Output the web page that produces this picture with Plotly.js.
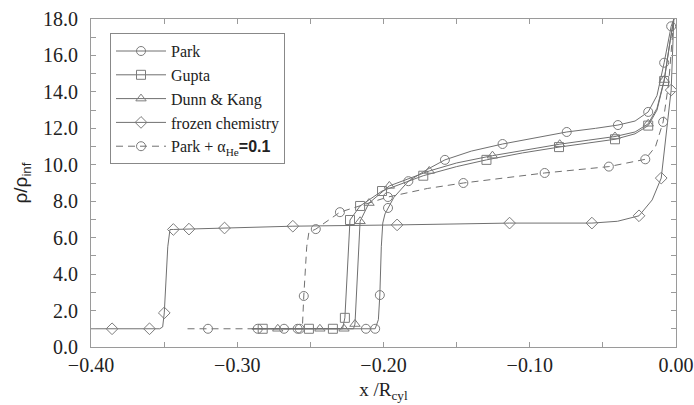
<!DOCTYPE html>
<html><head><meta charset="utf-8">
<script src="https://cdn.plot.ly/plotly-3.0.1.min.js"></script>
<style>html,body{margin:0;padding:0;background:#fff}#chart{width:694px;height:405px}</style>
</head><body><div id="chart"></div>
<script>
// ---- data ----
const seriesNames = ["Park", "Gupta", "Dunn & Kang", "frozen chemistry", "Park + α<sub>He</sub><span style=\"font-family:Liberation Sans;font-weight:bold\">=0.1</span>"];

const parkCurveX = [-0.290,-0.2057,-0.2035,-0.2025,-0.2015,-0.2005,-0.199,-0.1969,-0.193,-0.183,-0.170,-0.158,-0.140,-0.1186,-0.095,-0.0747,-0.055,-0.0397,-0.028,-0.019,-0.013,-0.0081,-0.0033,-0.0015];
const parkCurveY = [1.0,1.0,1.5,2.85,5.5,6.8,7.3,7.63,8.2,9.1,9.75,10.27,10.75,11.14,11.5,11.8,12.0,12.18,12.4,12.9,13.8,15.6,17.6,18.0];
const parkMarkX = [-0.286,-0.268,-0.2587,-0.212,-0.2057,-0.2025,-0.1969,-0.183,-0.158,-0.1186,-0.0747,-0.0397,-0.019,-0.0081,-0.0033];
const parkMarkY = [1,1,1,1,1,2.85,7.63,9.1,10.27,11.14,11.8,12.18,12.9,15.6,17.6];

const guptaCurveX = [-0.290,-0.228,-0.2264,-0.2245,-0.2229,-0.216,-0.201,-0.1728,-0.150,-0.1296,-0.105,-0.080,-0.060,-0.0417,-0.028,-0.019,-0.013,-0.0081,-0.004,-0.0015];
const guptaCurveY = [1.0,1.0,1.6,5.0,6.97,7.74,8.56,9.4,9.9,10.27,10.65,10.97,11.2,11.4,11.7,12.15,13.0,14.6,16.8,18.0];
const guptaMarkX = [-0.2826,-0.251,-0.2346,-0.2264,-0.2229,-0.216,-0.201,-0.1728,-0.1296,-0.080,-0.0417,-0.019,-0.0081];
const guptaMarkY = [1,1,1,1.6,6.97,7.74,8.56,9.4,10.27,10.97,11.4,12.15,14.6];

const dunnCurveX = [-0.290,-0.2205,-0.2195,-0.218,-0.2167,-0.216,-0.2099,-0.196,-0.1687,-0.150,-0.1255,-0.100,-0.0795,-0.060,-0.0417,-0.028,-0.019,-0.013,-0.0081,-0.004,-0.0015];
const dunnCurveY = [1.0,1.0,1.26,4.0,6.5,6.9,7.9,8.84,9.66,10.1,10.5,10.85,11.13,11.35,11.55,11.8,12.25,13.1,14.65,16.8,18.0];
const dunnMarkX = [-0.2723,-0.2435,-0.227,-0.2195,-0.216,-0.2099,-0.196,-0.1687,-0.1255,-0.0795,-0.0417,-0.019,-0.0081];
const dunnMarkY = [1,1,1,1.26,6.9,7.9,8.84,9.66,10.5,11.13,11.55,12.25,14.65];

const frozenCurveX = [-0.400,-0.353,-0.351,-0.3499,-0.3475,-0.346,-0.3437,-0.333,-0.3087,-0.262,-0.1907,-0.1138,-0.0575,-0.040,-0.0253,-0.0163,-0.0101,-0.0063,-0.0033,-0.0015];
const frozenCurveY = [1.0,1.0,1.1,1.87,5.5,6.45,6.45,6.47,6.53,6.63,6.7,6.8,6.8,6.9,7.2,8.07,9.27,12.1,14.1,18.0];
const frozenMarkX = [-0.3856,-0.360,-0.3499,-0.3437,-0.333,-0.3087,-0.262,-0.1907,-0.1138,-0.0575,-0.0253,-0.0101,-0.0033];
const frozenMarkY = [1,1,1.87,6.45,6.47,6.53,6.63,6.7,6.8,6.8,7.2,9.27,14.1];

const heCurveX = [-0.334,-0.2555,-0.2545,-0.2525,-0.251,-0.2463,-0.2298,-0.197,-0.170,-0.1454,-0.115,-0.0898,-0.0459,-0.021,-0.014,-0.0088,-0.005,-0.0015];
const heCurveY = [1.0,1.0,2.8,5.5,6.3,6.47,7.4,8.23,8.7,9.0,9.3,9.55,9.9,10.3,11.0,12.35,14.5,18.0];
const heMarkX = [-0.320,-0.2573,-0.2545,-0.2463,-0.2298,-0.197,-0.1454,-0.0898,-0.0459,-0.021,-0.0088];
const heMarkY = [1,1,2.8,6.47,7.4,8.23,9.0,9.55,9.9,10.3,12.35];

const xTitle = "x /R<sub>cyl</sub>";
const yTitle = "ρ/ρ<sub>inf</sub>";

// ---- build traces ----
const serif = "Liberation Serif";
const sans = "Liberation Sans";
const lineCol = "#707070", markCol = "#7c7c7c", axCol = "#9a9a9a";
const sets = [
  [parkCurveX, parkCurveY, parkMarkX, parkMarkY, "circle-open", "solid"],
  [guptaCurveX, guptaCurveY, guptaMarkX, guptaMarkY, "square-open", "solid"],
  [dunnCurveX, dunnCurveY, dunnMarkX, dunnMarkY, "triangle-up-open", "solid"],
  [frozenCurveX, frozenCurveY, frozenMarkX, frozenMarkY, "diamond-open", "solid"],
  [heCurveX, heCurveY, heMarkX, heMarkY, "circle-open", "7px,5px"]
];
const traces = [];
sets.forEach((s, i) => {
  const mk = {symbol: s[4], size: 9, color: markCol, line: {color: markCol, width: 1}};
  traces.push({x: s[0], y: s[1], mode: "lines", line: {color: lineCol, width: 1, dash: s[5]}, showlegend: false, hoverinfo: "skip"});
  traces.push({x: s[2], y: s[3], mode: "markers", marker: mk, showlegend: false});
  traces.push({x: [null], y: [null], mode: "lines+markers", name: seriesNames[i], marker: mk, line: {color: lineCol, width: 1, dash: s[5]}});
});

const layout = {
  width: 694, height: 405,
  margin: {l: 91, r: 18, t: 19, b: 58},
  paper_bgcolor: "#fff", plot_bgcolor: "#fff",
  font: {family: serif, size: 19, color: "#222"},
  xaxis: {
    showline: true, linecolor: axCol, linewidth: 1, mirror: "ticks",
    ticks: "inside", ticklen: 5, tickcolor: axCol, zeroline: false, showgrid: false,
    tickfont: {family: serif, size: 20, color: "#222"},
    range: [-0.40, 0.0], dtick: 0.1, tick0: 0, tickformat: ".2f", ticklabelstandoff: 0,
    minor: {dtick: 0.05, ticks: "inside", ticklen: 5, tickcolor: axCol},
    title: {text: xTitle, font: {family: serif, size: 19, color: "#222"}, standoff: 7}
  },
  yaxis: {
    showline: true, linecolor: axCol, linewidth: 1, mirror: "ticks",
    ticks: "inside", ticklen: 5, tickcolor: axCol, zeroline: false, showgrid: false,
    tickfont: {family: serif, size: 20, color: "#222"},
    range: [0, 18], dtick: 2, tick0: 0, tickformat: ".1f", ticklabelstandoff: 8,
    minor: {dtick: 1, ticks: "inside", ticklen: 5, tickcolor: axCol},
    title: {text: yTitle, font: {family: sans, size: 19, color: "#222"}, standoff: 10}
  },
  legend: {
    x: 0.0325, y: 0.957, xanchor: "left", yanchor: "top",
    bgcolor: "#fff", bordercolor: "#888", borderwidth: 1,
    font: {family: serif, size: 16, color: "#222"},
    tracegroupgap: 0, itemwidth: 50
  },
  showlegend: true
};
Plotly.newPlot("chart", traces, layout, {staticPlot: true, displayModeBar: false});
</script>
</body></html>
